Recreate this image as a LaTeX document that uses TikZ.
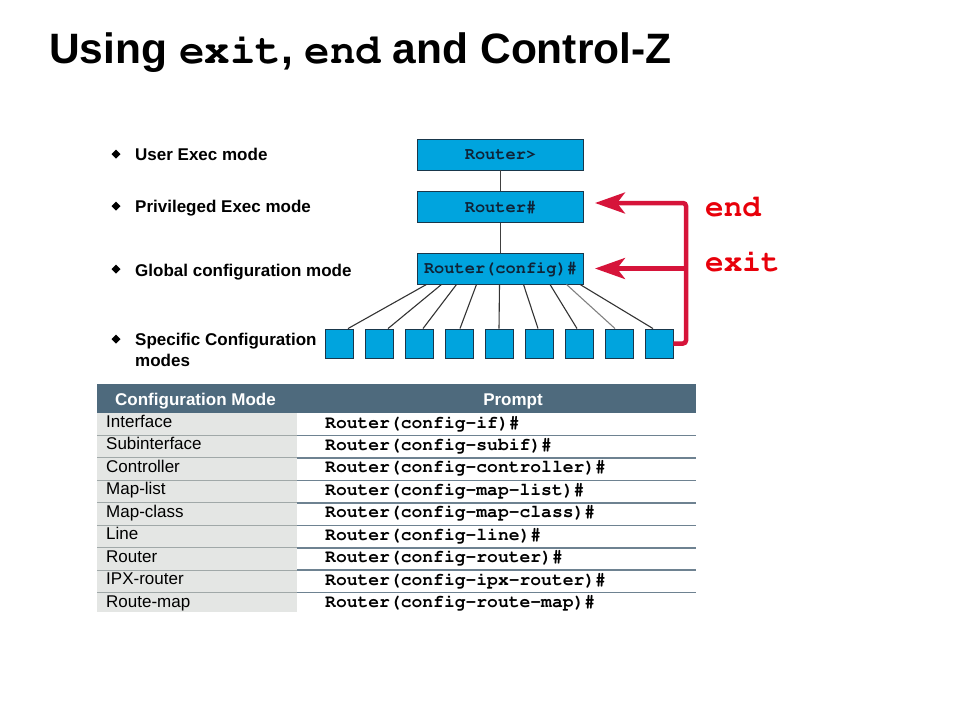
\documentclass[tikz,border=0pt]{standalone}
\usepackage{fontspec}
\usepackage[T1,TU]{fontenc}
\setmainfont{Liberation Sans}
\newcommand\courbf{\fontencoding{T1}\fontfamily{pcr}\fontseries{b}\selectfont}
\usetikzlibrary{arrows.meta,calc}
\definecolor{boxblue}{RGB}{0,164,222}
\definecolor{boxline}{RGB}{25,55,75}
\definecolor{boxtext}{RGB}{15,35,55}
\definecolor{arrred}{RGB}{214,20,58}
\definecolor{lblred}{RGB}{232,0,10}
\definecolor{hdr}{RGB}{78,106,125}
\definecolor{cellgray}{RGB}{228,230,228}
\definecolor{rulecol}{RGB}{110,130,145}
\definecolor{lrule}{RGB}{160,168,168}
\begin{document}
\begin{tikzpicture}[x=1pt,y=-1pt,
  modebox/.style={draw=boxline,line width=0.9pt,fill=boxblue,minimum width=166pt,minimum height=31pt,inner sep=0pt,font=\fontsize{17}{20}\courbf,text=boxtext},
  sq/.style={draw=boxline,line width=0.9pt,fill=boxblue,minimum width=28pt,minimum height=29pt,inner sep=0pt},
  fanline/.style={draw=black!80,line width=1.1pt},
  linkline/.style={draw=black!75,line width=1pt},
  redline/.style={draw=arrred,line width=4.5pt},
  redtip/.style={-{Stealth[length=30pt,width=21pt,inset=8pt]}},
  lbl/.style={anchor=base west,inner sep=0pt,font=\fontsize{31}{34}\courbf,text=lblred},
  bultext/.style={anchor=base west,inner sep=0pt,font=\bfseries\fontsize{17}{21}\selectfont},
  bul/.style={fill=black},
  hdrtext/.style={anchor=base west,inner sep=0pt,font=\bfseries\fontsize{17}{20}\selectfont,text=white},
  celltext/.style={anchor=base west,inner sep=0pt,font=\fontsize{17}{20}\selectfont},
  prompttext/.style={anchor=base west,inner sep=0pt,font=\fontsize{18}{20}\courbf}
]
\useasboundingbox (0,0) rectangle (960,720);
% title
\node[anchor=base west,inner sep=0pt,font=\bfseries\fontsize{42.5}{50}\selectfont] (title) at (49,63) {Using {\courbf exit}, {\courbf end} and Control-Z};
% bullets
\foreach \yy in {154,206,269,339} {
  \fill[bul] (116,\yy-4.5) -- (120.5,\yy) -- (116,\yy+4.5) -- (111.5,\yy) -- cycle;
}
\node[bultext] (t1) at (135,160) {User Exec mode};
\node[bultext] (t2) at (135,212) {Privileged Exec mode};
\node[bultext] (t3) at (135,276) {Global configuration mode};
\node[bultext] (t4) at (135,345) {Specific Configuration};
\node[bultext] (t5) at (135,366) {modes};
% mode boxes
\node[modebox] (ue) at (500.5,154.5) {Router>};
\node[modebox] (pe) at (500.5,207) {Router\#};
\node[modebox] (cfg) at (500.5,268.5) {Router(config)\#};
\draw[linkline] (ue.south) -- (pe.north);
\draw[linkline] (pe.south) -- (cfg.north);
% squares
\foreach \k in {1,...,9} {
  \node[sq] (s\k) at ({339+40*(\k-1)},343.5) {};
}
\foreach \k/\a/\b/\c in {1/-74/9/black!80,2/-59/9/black!80,3/-44/4/black!80,4/-24/1/black!80,5/-1/0/black!80,6/23/-1/black!80,7/49.5/-2/black!80,8/66/-4/black!50,9/79.5/-6/black!80} {
  \draw[fanline,draw=\c] ($(cfg.south)+(\a,0)$) -- ($(s\k.north)+(\b,0)$);
}
% red arrows
\coordinate (c1) at (686,343.5);
\coordinate (c2) at (686,203);
\coordinate (c3) at (686,268.5);
\coordinate (tipA) at (595,203);
\coordinate (tipB) at (595,268.5);
\draw[redline,rounded corners=3pt,redtip] (s9.east) -- (c1) -- (c2) -- (tipA);
\draw[redline,redtip] (c3) -- (tipB);
\node[lbl] (lend) at (705,216) {end};
\node[lbl] (lexit) at (705,271) {exit};
% table
\fill[hdr] (97,384) rectangle (696,413);
\fill[cellgray] (97,413) rectangle (297,612);
\foreach \i in {0,...,7} {
  \draw[lrule,line width=1pt] (97,{435.5+22.45*\i}) -- (297,{435.5+22.45*\i});
  \draw[rulecol,line width=1.5pt] (297,{435.5+22.45*\i}) -- (696,{435.5+22.45*\i});
}
\node[hdrtext] (h1) at (115,405) {Configuration Mode};
\node[hdrtext,anchor=base] (h2) at (513,405) {Prompt};
\foreach \i/\m/\p in {0/Interface/if,1/Subinterface/subif,2/Controller/controller,3/Map-list/map-list,4/Map-class/map-class,5/Line/line,6/Router/router,7/IPX-router/ipx-router,8/Route-map/route-map} {
  \node[celltext] (m\i) at (106,{427.5+22.45*\i}) {\m};
  \node[prompttext] (p\i) at (325,{428+22.45*\i}) {Router(config-\p)\#};
}
\end{tikzpicture}
\end{document}
